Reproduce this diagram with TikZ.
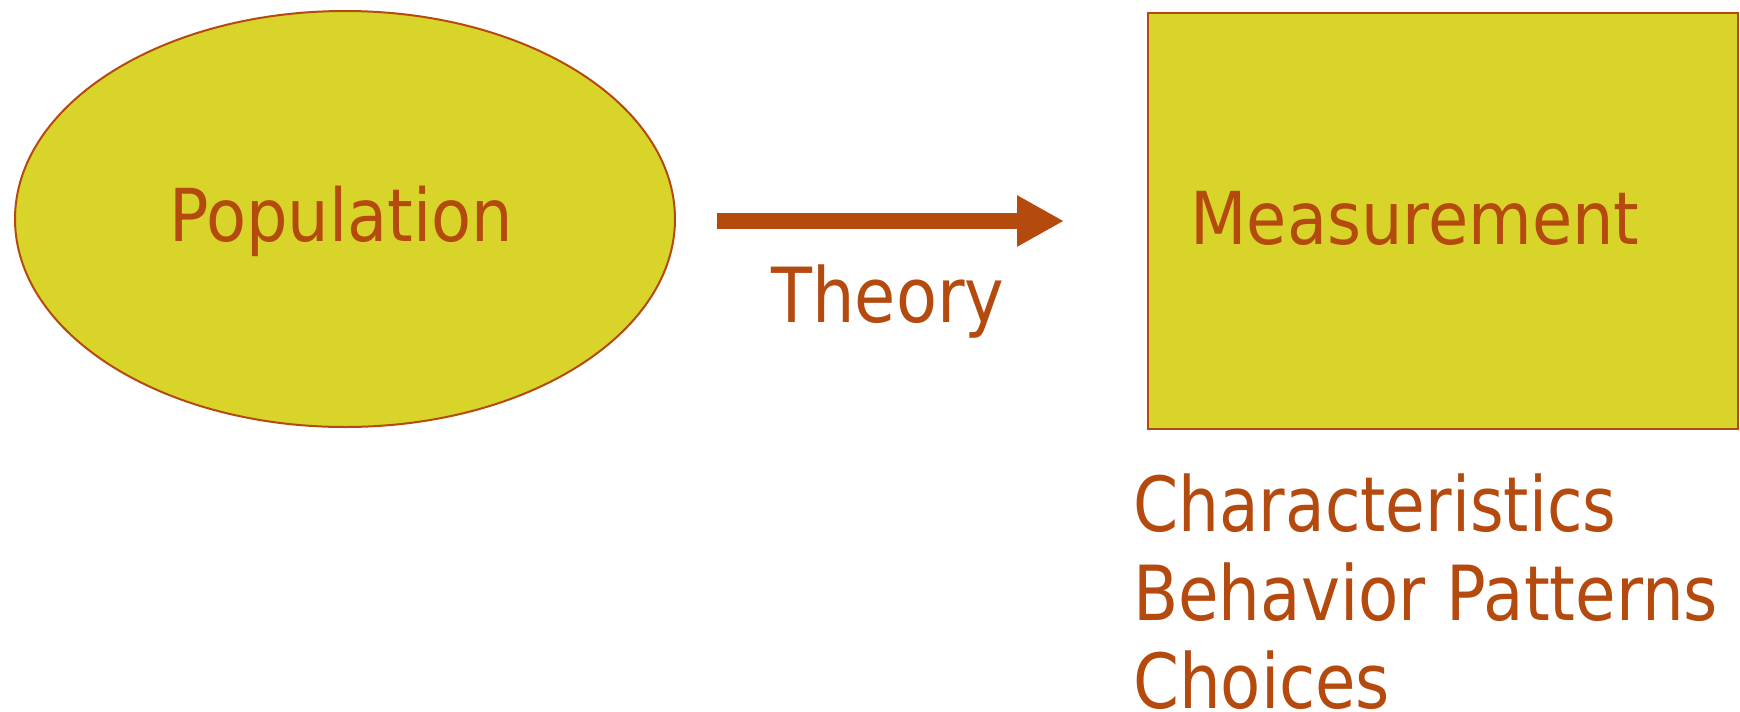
\documentclass[tikz,border=0pt]{standalone}
\usepackage{fontspec}
\setmainfont{DejaVu Sans}
\usetikzlibrary{arrows.meta,shapes.geometric}
\definecolor{shapefill}{HTML}{D8D42A}
\definecolor{rust}{HTML}{B54A0F}
\tikzset{
  shapebox/.style={draw=rust, line width=2pt, fill=shapefill, inner sep=0pt},
  lbl/.style={text=rust, inner sep=0pt, font=\fontsize{73}{89}\selectfont},
  biglbl/.style={lbl, font=\fontsize{76}{89}\selectfont},
}
\newcommand\fitw[2]{\resizebox{#1}{\height}{#2}}
\begin{document}
\begin{tikzpicture}[x=1pt,y=-1pt]
\useasboundingbox (0,0) rectangle (1740,712);
\node[shapebox, ellipse, minimum width=660pt, minimum height=416pt] (pop) at (345,219) {};
\node[shapebox, rectangle, minimum width=590pt, minimum height=416pt] (meas) at (1443,221) {};
\node[lbl, anchor=base] (poptxt) at (341,241) {\fitw{344pt}{Population}};
\node[lbl, anchor=base] (meastxt) at (1415,244) {\fitw{449pt}{Measurement}};
\coordinate (a1) at (717,221);
\coordinate (a2) at (1064,221);
\draw[rust, line width=16pt, -{Triangle[length=47pt,width=48pt]}] (a1) -- (a2);
\node[biglbl, anchor=base] (theory) at (888,322) {\fitw{233pt}{Theory}};
\node[biglbl, anchor=base west] (c1) at (1133,531) {\fitw{483pt}{Characteristics}};
\node[biglbl, anchor=base west] (c2) at (1133,620) {\fitw{585pt}{Behavior Patterns}};
\node[biglbl, anchor=base west] (c3) at (1133,708) {\fitw{257pt}{Choices}};
\end{tikzpicture}
\end{document}
